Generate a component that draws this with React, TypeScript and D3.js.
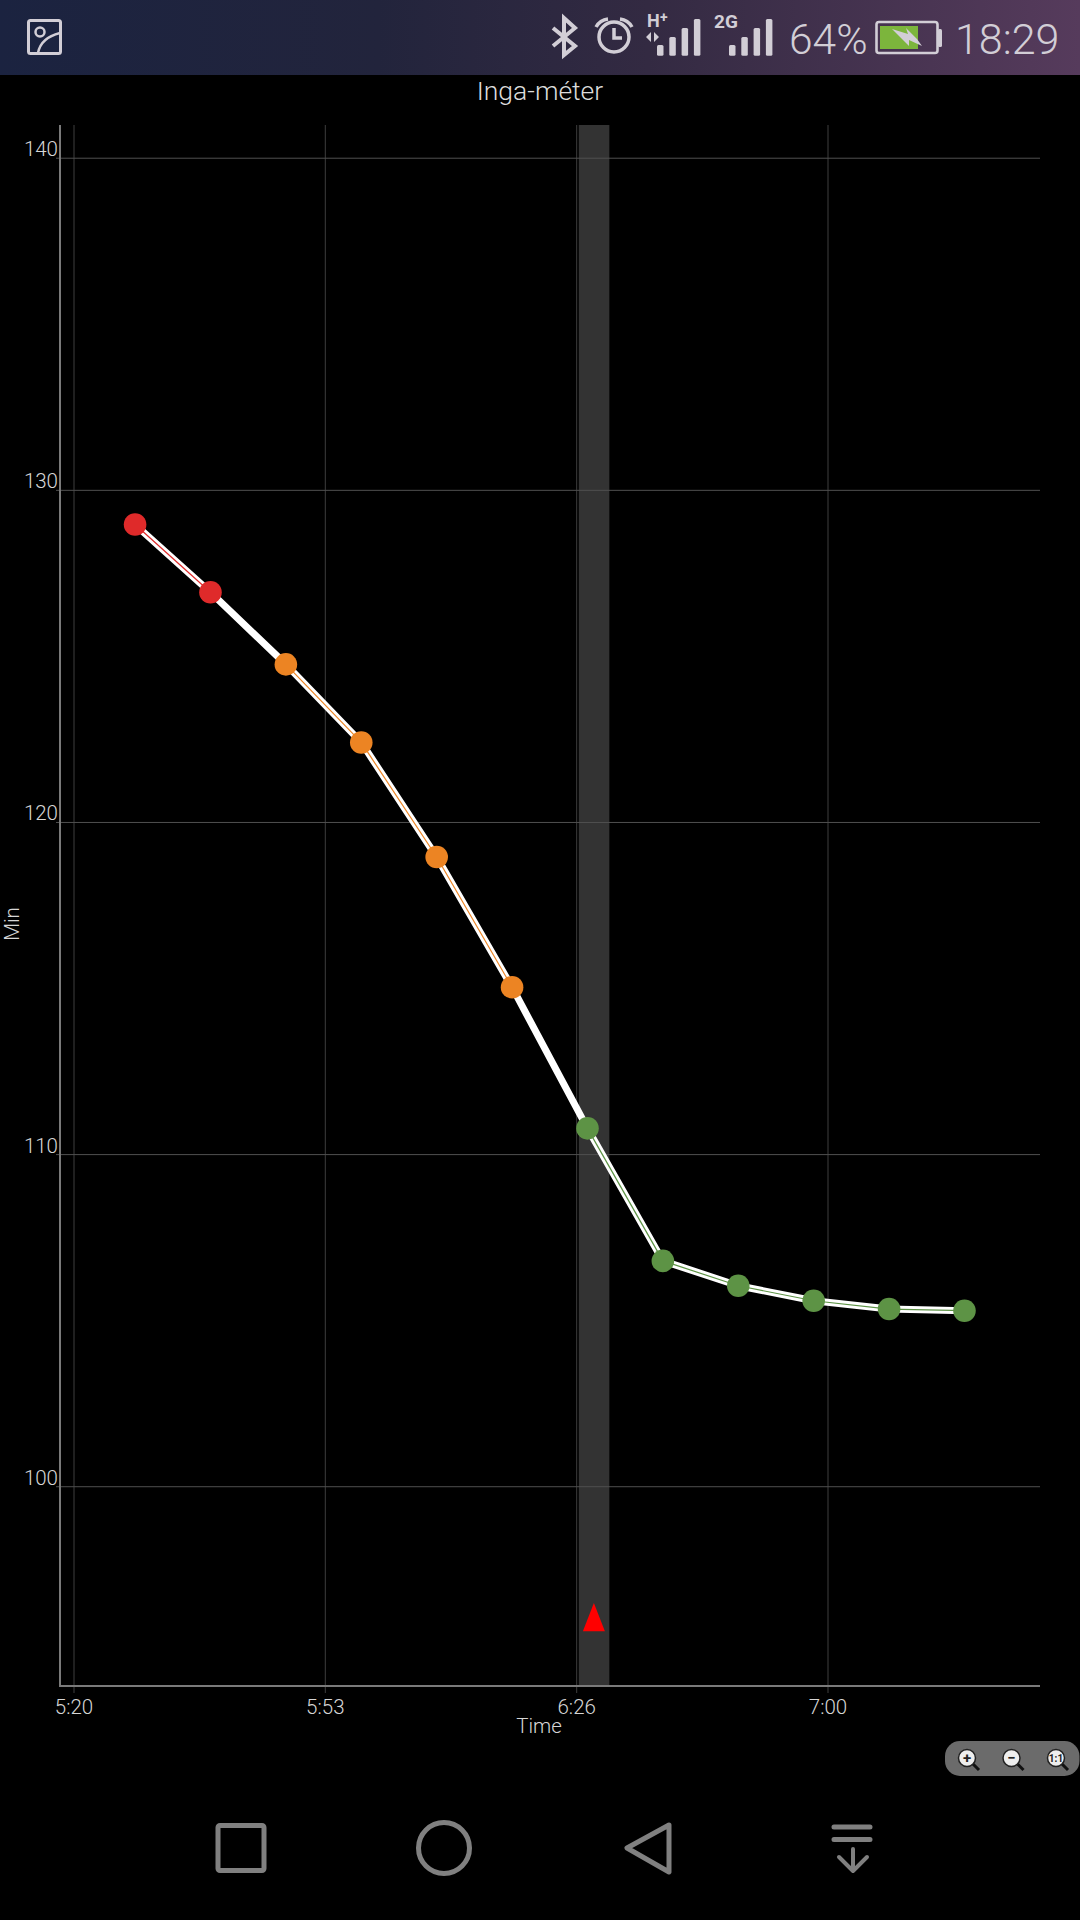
import React from "react";
import * as d3 from "d3";

const pointMinutes = [328.1, 338.1, 348.1, 358.1, 368.1, 378.1, 388.1, 398.1, 408.1, 418.1, 428.1, 438.1];
const pointValues = [128.97, 126.93, 124.76, 122.41, 118.96, 115.04, 110.79, 106.8, 106.05, 105.6, 105.35, 105.3];
const pointLevels = ["red", "red", "orange", "orange", "orange", "orange", "green", "green", "green", "green", "green", "green"];
const levelColors: Record<string, string> = { red: "#df2a2a", orange: "#ec8423", green: "#5d9345" };
const yTicks = [100, 110, 120, 130, 140];
const xTickMinutes = [320, 353.33, 386.67, 420];
const xTickLabels = ["5:20", "5:53", "6:26", "7:00"];
const bandRange = [386.95, 391];
const markerMinute = 388.95;
const markerValue = [96.5, 95.65];

const title = "Inga-méter";
const xTitle = "Time";
const yTitle = "Min";

const x = d3.scaleLinear().domain([320, 420]).range([74, 828]);
const y = d3.scaleLinear().domain([94, 141]).range([1686, 125]);

const font = "Roboto, sans-serif";
const PLOT = { left: 60, right: 1040, top: 125, bottom: 1686 };
const statusInk = "#d2ced6";
const navInk = "#808080";

const lineOf = d3.line<[number, number]>().x((d) => x(d[0])).y((d) => y(d[1]));

function Signal({ x0, step }: { x0: number; step: number }) {
  const tops = [45, 37, 28, 19];
  return (
    <g fill={statusInk}>
      {tops.map((t, i) => (
        <rect key={i} x={x0 + i * step} y={t} width={6.5} height={55.7 - t} rx={1.5} />
      ))}
    </g>
  );
}

function Magnifier({ cx, cy, label }: { cx: number; cy: number; label: string }) {
  return (
    <g>
      <line x1={cx + 5} y1={cy + 5} x2={cx + 12} y2={cy + 12} stroke="#111" strokeWidth={3} />
      <circle cx={cx} cy={cy} r={8.5} fill="#eee" stroke="#222" strokeWidth={1.5} />
      <text x={cx} y={cy + (label === "1:1" ? 4 : 5)} textAnchor="middle" fontFamily={font} fontWeight={700} fontSize={label === "1:1" ? 10 : 15} fill="#222">
        {label}
      </text>
    </g>
  );
}

export default function App() {
  const band = bandRange.map(x);
  const mx = x(markerMinute);
  return (
    <svg
      width={1080}
      height={1920}
      viewBox="0 0 1080 1920"
      style={{ position: "absolute", left: 0, top: 0, display: "block", background: "#000" }}
    >
      <defs>
        <linearGradient id="statusBg" x1="0" x2="1" y1="0" y2="0">
          <stop offset="0" stopColor="#1b2340" />
          <stop offset="0.35" stopColor="#22243c" />
          <stop offset="0.6" stopColor="#332a42" />
          <stop offset="1" stopColor="#563b5c" />
        </linearGradient>
      </defs>
      <rect width={1080} height={1920} fill="#000" />

      {/* status bar */}
      <rect width={1080} height={75} fill="url(#statusBg)" />
      <g fill="none" stroke={statusInk}>
        <rect x={28.5} y={20.5} width={32} height={33} rx={2} strokeWidth={3} />
        <circle cx={40} cy={32} r={4.5} strokeWidth={2.5} />
        <path d="M38 53 C40 42,48 36,60 33" strokeWidth={2.5} />
        <path d="M553 28 L575 46 L564 55 V18 L575 28 L553 46" strokeWidth={4} strokeLinejoin="miter" />
        <circle cx={614} cy={37} r={15} strokeWidth={3.5} />
        <path d="M614 28 V38 H622" strokeWidth={3.5} />
        <path d="M596 27 Q600 20 608 19" strokeWidth={3.5} />
        <path d="M632 27 Q628 20 620 19" strokeWidth={3.5} />
        <rect x={876.5} y={22} width={61} height={31} rx={2.5} strokeWidth={2.6} />
      </g>
      <rect x={880} y={26} width={38} height={23} fill="#7cb53c" />
      <rect x={938} y={29} width={4} height={18} rx={1.5} fill={statusInk} />
      <path d="M892 29 L908 34 L906 28 L917 39 L922 46 L909 40 L909 46 Z" fill={statusInk} />
      <path d="M646 37 L651 32 V42 Z M654 32 L659 37 L654 42 Z" fill={statusInk} />
      <g fontFamily={font} fill={statusInk}>
        <text x={647} y={27} fontSize={18} fontWeight={700}>H</text>
        <text x={660} y={22} fontSize={14} fontWeight={700}>+</text>
        <text x={714} y={28} fontSize={19} fontWeight={700}>2G</text>
        <text x={789} y={54} fontSize={42.5} fontWeight={300}>64%</text>
        <text x={955} y={54} fontSize={43} fontWeight={300}>18:29</text>
      </g>
      <Signal x0={657} step={12.3} />
      <Signal x0={729} step={12.3} />

      {/* plot */}
      <text x={540} y={100} textAnchor="middle" fontFamily={font} fontSize={26.5} fontWeight={300} fill="#dcdcdc">
        {title}
      </text>
      <rect x={band[0]} y={PLOT.top} width={band[1] - band[0]} height={PLOT.bottom - PLOT.top} fill="#333333" />

      {xTickMinutes.map((m, i) => (
        <g key={m}>
          <line x1={x(m)} x2={x(m)} y1={PLOT.top} y2={PLOT.bottom + 7} stroke="#3e3e3e" strokeWidth={1} />
          <text x={x(m)} y={1714} textAnchor="middle" fontFamily={font} fontSize={20.5} fontWeight={300} fill="#d6d6d6">
            {xTickLabels[i]}
          </text>
        </g>
      ))}
      {yTicks.map((t) => (
        <g key={t}>
          <line x1={56} x2={PLOT.right} y1={y(t)} y2={y(t)} stroke="#505050" strokeWidth={1} />
          <text x={58} y={y(t) - 2} textAnchor="end" fontFamily={font} fontSize={20.5} fontWeight={300} fill="#d6d6d6">
            {t}
          </text>
        </g>
      ))}
      <line x1={PLOT.left} x2={PLOT.left} y1={PLOT.top} y2={PLOT.bottom + 1} stroke="#7a7a7a" strokeWidth={2} />
      <line x1={PLOT.left} x2={PLOT.right} y1={PLOT.bottom} y2={PLOT.bottom} stroke="#7a7a7a" strokeWidth={2} />

      <text x={539} y={1733} textAnchor="middle" fontFamily={font} fontSize={20.5} fontWeight={300} fill="#d6d6d6">
        {xTitle}
      </text>
      <text
        transform="translate(19,924) rotate(-90)"
        textAnchor="middle"
        fontFamily={font}
        fontSize={20.5}
        fontWeight={300}
        fill="#d6d6d6"
      >
        {yTitle}
      </text>

      {/* line: white casing, inner colour where both ends share a level */}
      <path
        d={lineOf(pointMinutes.map((m, i) => [m, pointValues[i]] as [number, number])) ?? ""}
        fill="none"
        stroke="#ffffff"
        strokeWidth={7}
        strokeLinejoin="round"
      />
      {pointMinutes.slice(1).map((m, i) =>
        pointLevels[i] === pointLevels[i + 1] ? (
          <path
            key={m}
            d={lineOf([
              [pointMinutes[i], pointValues[i]],
              [m, pointValues[i + 1]],
            ]) ?? ""}
            fill="none"
            stroke={levelColors[pointLevels[i]]}
            strokeWidth={1.2}
          />
        ) : null
      )}
      {pointMinutes.map((m, i) => (
        <circle key={m} cx={x(m)} cy={y(pointValues[i])} r={11.3} fill={levelColors[pointLevels[i]]} />
      ))}

      <path
        d={`M${mx} ${y(markerValue[0])} L${mx + 11} ${y(markerValue[1])} L${mx - 11} ${y(markerValue[1])} Z`}
        fill="#ff0000"
      />

      {/* zoom control */}
      <rect x={945} y={1741} width={134.5} height={35} rx={15} fill="#6b6b6b" />
      <Magnifier cx={967} cy={1758} label="+" />
      <Magnifier cx={1011.5} cy={1758} label="−" />
      <Magnifier cx={1056} cy={1758} label="1:1" />

      {/* navigation bar */}
      <g fill="none" stroke={navInk} strokeWidth={5} strokeLinejoin="round" strokeLinecap="round">
        <rect x={218} y={1825.5} width={46} height={45} rx={2} />
        <circle cx={444} cy={1848} r={25.5} />
        <path d="M669 1825 L627 1848 L669 1872 Z" />
        <path d="M834 1827 H870 M834 1839.5 H870" strokeWidth={5} />
        <path d="M853 1849 V1871 M839 1857 L853 1871 L867 1857" strokeWidth={4} />
      </g>
    </svg>
  );
}
